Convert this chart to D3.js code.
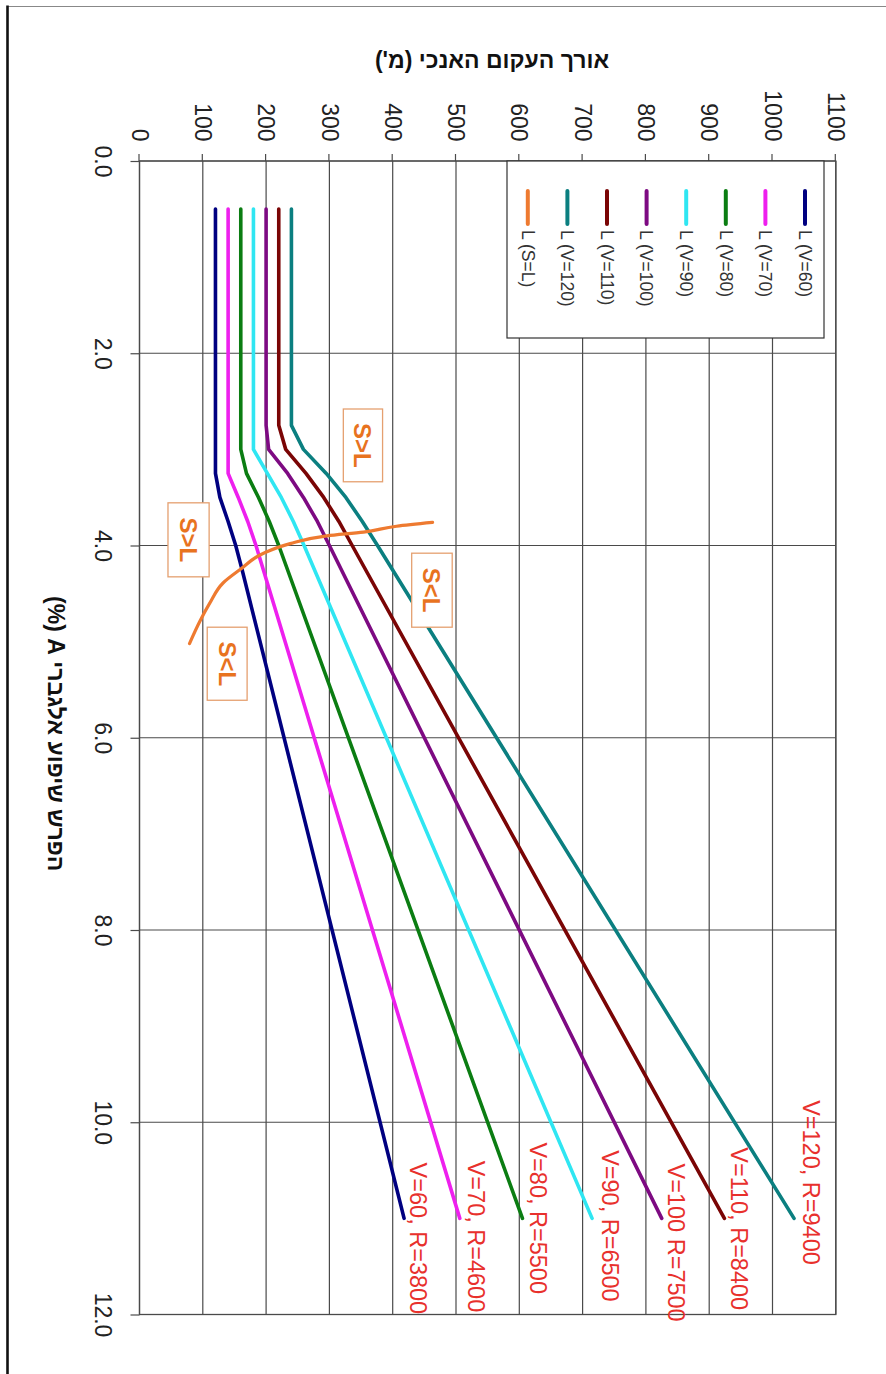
<!DOCTYPE html>
<html><head><meta charset="utf-8">
<script src="https://cdn.jsdelivr.net/npm/d3@7"></script>
<style>
html,body{margin:0;padding:0;background:#fff}
svg{display:block}
text{font-family:"Liberation Sans",Arial,"DejaVu Sans",sans-serif}
</style>
</head><body>
<svg id="c" width="886" height="1374"></svg>
<script>
// ---------- data ----------
const A_TICKS = [0, 2, 4, 6, 8, 10, 12];
const L_TICKS = [0, 100, 200, 300, 400, 500, 600, 700, 800, 900, 1000, 1100];

const SERIES_NAMES = ["L (V=60)", "L (V=70)", "L (V=80)", "L (V=90)", "L (V=100)", "L (V=110)", "L (V=120)"];
const SERIES_COLORS = ["#000080", "#ee1fee", "#0b7d12", "#2fe6f2", "#7d0a82", "#7a0505", "#0b7f80"];
const V60  = [[0.5,120],[3.25,120],[3.5,127],[3.75,140],[4.0,152],[4.25,162],[11,418]];
const V70  = [[0.5,140],[3.25,140],[3.5,156],[3.75,171],[4.0,184],[11,506]];
const V80  = [[0.5,160],[3.0,160],[3.25,169],[3.5,188],[3.75,205],[4.0,220],[11,605]];
const V90  = [[0.5,180],[3.0,180],[3.25,202],[3.5,224],[3.75,243],[4.0,260],[11,715]];
const V100 = [[0.5,200],[2.75,200],[3.0,204],[3.25,234],[3.5,259],[3.75,281],[4.0,300],[11,825]];
const V110 = [[0.5,220],[2.75,220],[3.0,231],[3.25,263],[3.5,291],[3.75,315],[4.0,336],[11,924]];
const V120 = [[0.5,240],[2.75,240],[3.0,259],[3.25,295],[3.5,326],[3.75,352],[4.0,376],[11,1034]];
const SERIES = [V60, V70, V80, V90, V100, V110, V120];

const SL_NAME = "L (S=L)";
const SL_COLOR = "#ee7a30";
const SL_CURVE = [[3.76,463],[3.80,406],[3.86,354],[3.90,296],[3.98,238],[4.08,196],[4.25,159],[4.39,132],[4.60,111],[4.78,96],[5.02,79]];

const END_LABELS = ["V=60, R=3800", "V=70, R=4600", "V=80, R=5500", "V=90, R=6500", "V=100 R=7500", "V=110, R=8400", "V=120, R=9400"];
const REGION_TEXT = ["S>L", "S<L", "S>L", "S<L"];

const X_TITLE = "הפרש שיפוע אלגברי A (%)";
const Y_TITLE = "אורך העקום האנכי (מ')";

// ---------- layout (positions, not data) ----------
const END_LABEL_POS = [[10.42,440],[10.40,532],[10.21,630],[10.29,744],[10.43,849],[10.26,947],[9.77,1061]]; // [A start, L centre]
const REGION_BOX = [[2.58,3.337,322,384],[4.08,4.85,430,494],[3.556,4.326,45,110],[4.85,5.61,107,170]]; // [A0,A1,L0,L1]

// ---------- drawing ----------
const svg = d3.select("#c");
svg.append("rect").attr("width",886).attr("height",1374).attr("fill","#fff");
// page frame
svg.append("line").attr("x1",7).attr("x2",886).attr("y1",6.5).attr("y2",6.5).attr("stroke","#888").attr("stroke-width",1.2);
svg.append("line").attr("x1",7.5).attr("x2",7.5).attr("y1",5.5).attr("y2",1374).attr("stroke","#111").attr("stroke-width",2.6);

// rotated chart frame: local x -> screen down, local y -> screen left
const g = svg.append("g").attr("transform","translate(886,0) rotate(90)");
const x = d3.scaleLinear([0,12],[161,1314.5]);
const y = d3.scaleLinear([0,1100],[746.5,50.2]);
const GRID = "#4a4a4a";

// gridlines
g.selectAll("line.gx").data(A_TICKS).join("line").attr("class","gx")
  .attr("x1",d=>x(d)).attr("x2",d=>x(d)).attr("y1",y(0)).attr("y2",y(1100))
  .attr("stroke",GRID).attr("stroke-width",1.2);
g.selectAll("line.gy").data(L_TICKS).join("line").attr("class","gy")
  .attr("x1",x(0)).attr("x2",x(12)).attr("y1",d=>y(d)).attr("y2",d=>y(d))
  .attr("stroke",GRID).attr("stroke-width",1.2);
g.append("rect").attr("x",x(0)).attr("y",y(1100)).attr("width",x(12)-x(0)).attr("height",y(0)-y(1100))
  .attr("fill","none").attr("stroke",GRID).attr("stroke-width",1.3);

// axes
const ax = g.append("g").attr("transform",`translate(${x(0)},0)`)
  .call(d3.axisLeft(y).tickValues(L_TICKS).tickSize(7).tickPadding(12.5).tickFormat(d3.format("d")));
ax.attr("font-family",null).attr("font-size",23);
ax.select(".domain").remove();
ax.selectAll(".tick line").attr("stroke",GRID).attr("stroke-width",1.2);
ax.selectAll(".tick text").attr("fill","#222");

const bx = g.append("g").attr("transform",`translate(0,${y(0)})`)
  .call(d3.axisBottom(x).tickValues(A_TICKS).tickSize(9).tickPadding(19).tickFormat(d3.format(".1f")));
bx.attr("font-family",null).attr("font-size",23);
bx.select(".domain").remove();
bx.selectAll(".tick line").attr("stroke",GRID).attr("stroke-width",1.2);
bx.selectAll(".tick text").attr("fill","#222");

// axis titles
g.append("text").attr("x",x(6)-4).attr("y",838).attr("text-anchor","middle")
  .attr("direction","rtl").attr("font-size",23).attr("font-weight","bold").attr("fill","#111").text(X_TITLE);
g.append("text").attr("transform","translate(68,394) rotate(-90)").attr("text-anchor","middle")
  .attr("direction","rtl").attr("font-size",23).attr("font-weight","bold").attr("fill","#111").text(Y_TITLE);

// series lines
const line = d3.line().x(d=>x(d[0])).y(d=>y(d[1]));
g.selectAll("path.series").data(SERIES).join("path").attr("class","series")
  .attr("d",line).attr("fill","none").attr("stroke",(d,i)=>SERIES_COLORS[i])
  .attr("stroke-width",3.6).attr("stroke-linejoin","round").attr("stroke-linecap","round");

// S=L curve
g.append("path").datum(SL_CURVE).attr("d",d3.line().x(d=>x(d[0])).y(d=>y(d[1])).curve(d3.curveMonotoneX))
  .attr("fill","none").attr("stroke",SL_COLOR).attr("stroke-width",3.2).attr("stroke-linecap","round");

// end labels
g.selectAll("text.endl").data(END_LABELS).join("text").attr("class","endl")
  .attr("x",(d,i)=>x(END_LABEL_POS[i][0])).attr("y",(d,i)=>y(END_LABEL_POS[i][1]))
  .attr("dy","0.36em").attr("font-size",23.5).attr("fill","#e8302c").text(d=>d);

// region annotation boxes
const rb = g.selectAll("g.rbox").data(REGION_TEXT).join("g").attr("class","rbox");
rb.append("rect")
  .attr("x",(d,i)=>x(REGION_BOX[i][0])).attr("width",(d,i)=>x(REGION_BOX[i][1])-x(REGION_BOX[i][0]))
  .attr("y",(d,i)=>y(REGION_BOX[i][3])).attr("height",(d,i)=>y(REGION_BOX[i][2])-y(REGION_BOX[i][3]))
  .attr("fill","#fff").attr("stroke","#e5a070").attr("stroke-width",1.3);
rb.append("text")
  .attr("x",(d,i)=>(x(REGION_BOX[i][0])+x(REGION_BOX[i][1]))/2)
  .attr("y",(d,i)=>(y(REGION_BOX[i][2])+y(REGION_BOX[i][3]))/2)
  .attr("dy","0.36em").attr("text-anchor","middle").attr("font-size",24).attr("font-weight","bold")
  .attr("fill","#e8731f").text(d=>d);

// legend
const LEG = {x0:161, x1:338, y0:62, y1:379, first:81, step:39.6, lx0:191, lx1:224, tx:230};
g.append("rect").attr("x",LEG.x0).attr("y",LEG.y0).attr("width",LEG.x1-LEG.x0).attr("height",LEG.y1-LEG.y0)
  .attr("fill","#fff").attr("stroke","#333").attr("stroke-width",1.2);
const legNames = SERIES_NAMES.concat([SL_NAME]);
const legColors = SERIES_COLORS.concat([SL_COLOR]);
const li = g.selectAll("g.leg").data(legNames).join("g").attr("class","leg")
  .attr("transform",(d,i)=>`translate(0,${LEG.first+i*LEG.step})`);
li.append("line").attr("x1",LEG.lx0).attr("x2",LEG.lx1).attr("stroke",(d,i)=>legColors[i])
  .attr("stroke-width",4).attr("stroke-linecap","round");
li.append("text").attr("x",LEG.tx).attr("dy","0.35em").attr("font-size",17.5).attr("fill","#333").text(d=>d);
</script>
</body></html>
